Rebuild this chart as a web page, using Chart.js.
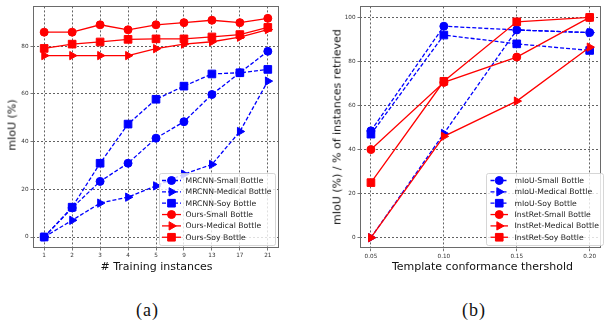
<!DOCTYPE html>
<html>
<head>
<meta charset="utf-8">
<script src="https://cdn.jsdelivr.net/npm/chart.js@4.4.0/dist/chart.umd.min.js"></script>
<style>
  body { margin: 0; width: 607px; height: 322px; background: #fff; position: relative; overflow: hidden; font-family: "DejaVu Sans", sans-serif; }
  canvas { position: absolute; top: 0; }
  .lbl { position: absolute; font-size: 11px; color: #111; white-space: nowrap; transform: translate(-50%, -50%); line-height: 1; }
  .rot { transform: translate(-50%, -50%) rotate(-90deg); }
  .cap { position: absolute; font-family: "Liberation Serif", serif; font-size: 18px; color: #111; letter-spacing: 1px; transform: translate(-50%, -50%); line-height: 1; }
</style>
</head>
<body>
<canvas id="chartA" width="300" height="260" style="left:0"></canvas>
<canvas id="chartB" width="307" height="260" style="left:300px"></canvas>
<div class="lbl rot" style="left:12px; top:125px">mIoU (%)</div>
<div class="lbl" style="left:156.5px; top:265.5px"># Training instances</div>
<div class="lbl rot" style="left:337px; top:126.5px">mIoU (%) / % of instances retrieved</div>
<div class="lbl" style="left:482.5px; top:265.5px">Template conformance thershold</div>
<div class="cap" style="left:147.5px; top:310px">(a)</div>
<div class="cap" style="left:474px; top:310px">(b)</div>
<script>
// (a) mIoU vs number of training instances
const trainCounts = ["1", "2", "3", "4", "5", "9", "13", "17", "21"];
const mrcnnSmall   = [0, 12.2, 23.3, 30.9, 41.4, 48.3, 59.7, 68.8, 77.8];
const mrcnnMedical = [0, 7.0, 14.2, 16.7, 21.4, 26.3, 30.4, 44.2, 65.3];
const mrcnnSoy     = [0, 12.5, 30.9, 47.3, 57.7, 63.2, 68.3, 68.8, 70.2];
const oursSmall    = [85.8, 85.8, 88.9, 86.8, 88.9, 89.8, 90.8, 89.8, 91.6];
const oursMedical  = [76, 76, 76, 76, 78.9, 80.8, 81.8, 83.7, 86.9];
const oursSoy      = [79, 80.8, 81.7, 82.8, 83, 83, 83.8, 84.8, 87.8];

// (b) mIoU / retrieval vs template conformance threshold
const thresholds = [0.05, 0.10, 0.15, 0.20];
const miouSmall   = [48.5, 96, 94.3, 93.1];
const miouMedical = [0, 47.3, 94.3, 93.1];
const miouSoy     = [47, 92, 88, 85];
const retSmall    = [40, 70.5, 82, 100];
const retMedical  = [0, 46, 62, 86.5];
const retSoy      = [25, 71, 98, 100];

const yTicksA = [0, 20, 40, 60, 80];
const yTicksB = [0, 20, 40, 60, 80, 100];

const BLUE = "#0000ff";
const RED = "#ff0000";

const markers = {
  circle:   { pointStyle: "circle",   radius: 4,   rotation: 0 },
  triangle: { pointStyle: "triangle", radius: 4.8, rotation: 90 },
  rect:     { pointStyle: "rect",     radius: 5.4, rotation: 0 }
};

function series(label, points, color, marker, dashed, order) {
  const m = markers[marker];
  return {
    label, data: points, order,
    borderColor: color, backgroundColor: color,
    borderWidth: 1.3, borderDash: dashed ? [4, 2] : [],
    pointStyle: m.pointStyle, pointRadius: m.radius, pointRotation: m.rotation,
    pointBorderWidth: 1, pointBackgroundColor: color, pointBorderColor: color,
    tension: 0, fill: false
  };
}

const byIndex = vals => vals.map((v, i) => ({ x: i, y: v }));
const byThreshold = vals => vals.map((v, i) => ({ x: thresholds[i], y: v }));

// matplotlib-style box frame plus an in-plot legend
const framePlugin = {
  id: "frameLegend",
  afterDatasetsDraw(chart, args, opts) {
    const { ctx, chartArea: a } = chart;
    ctx.save();
    ctx.strokeStyle = "#6a6a6a";
    ctx.lineWidth = 1;
    ctx.setLineDash([]);
    ctx.strokeRect(Math.round(a.left) + 0.5, Math.round(a.top) + 0.5,
      Math.round(a.right - a.left) - 1, Math.round(a.bottom - a.top) - 1);

    // legend box
    const b = opts.box;
    ctx.fillStyle = "rgba(255,255,255,0.8)";
    ctx.strokeStyle = "#cccccc";
    ctx.lineWidth = 0.8;
    ctx.beginPath();
    ctx.roundRect(b.x + 0.5, b.y + 0.5, b.w, b.h, 2);
    ctx.fill();
    ctx.stroke();

    chart.data.datasets.forEach((ds, i) => {
      const y = b.y + opts.rowTop + i * opts.rowGap;
      ctx.strokeStyle = ds.borderColor;
      ctx.lineWidth = ds.borderWidth;
      ctx.setLineDash(ds.borderDash);
      ctx.beginPath();
      ctx.moveTo(opts.hx0, y);
      ctx.lineTo(opts.hx1, y);
      ctx.stroke();
      ctx.setLineDash([]);
      ctx.fillStyle = ds.pointBackgroundColor;
      ctx.strokeStyle = ds.pointBorderColor;
      ctx.lineWidth = 1;
      Chart.helpers.drawPoint(ctx, {
        pointStyle: ds.pointStyle, rotation: ds.pointRotation,
        radius: ds.pointRadius, borderWidth: 1
      }, (opts.hx0 + opts.hx1) / 2, y);
      ctx.fillStyle = "#222";
      ctx.font = "7.7px 'DejaVu Sans'";
      ctx.textBaseline = "middle";
      ctx.textAlign = "left";
      ctx.fillText(ds.label, opts.tx, y + 0.5);
    });
    ctx.restore();
  }
};

const tickFont = { family: "DejaVu Sans", size: 5.7 };
const gridOpts = { color: "#3a3a3a", lineWidth: 0.8, tickLength: 2.5, tickColor: "#555", tickWidth: 0.8, tickBorderDash: [] };
const borderOpts = { display: false, dash: [2, 2] };

function makeScales(x, y, yWidth, xHeight) {
  return {
    x: {
      type: "linear", min: x.min, max: x.max,
      grid: gridOpts, border: borderOpts,
      afterBuildTicks: s => { s.ticks = x.ticks.map(v => ({ value: v })); },
      afterFit: s => { s.height = xHeight; },
      ticks: { font: tickFont, color: "#333", padding: 1.5, autoSkip: false, maxRotation: 0, callback: x.label }
    },
    y: {
      type: "linear", min: y.min, max: y.max,
      grid: gridOpts, border: borderOpts,
      afterBuildTicks: s => { s.ticks = y.ticks.map(v => ({ value: v })); },
      afterFit: s => { s.width = yWidth; },
      ticks: { font: tickFont, color: "#333", padding: 2, callback: v => String(v) }
    }
  };
}

const commonOpts = {
  responsive: false, animation: false, devicePixelRatio: 1,
  plugins: { legend: { display: false }, tooltip: { enabled: false } }
};

new Chart(document.getElementById("chartA"), {
  type: "line",
  data: {
    datasets: [
      series("MRCNN-Small Bottle", byIndex(mrcnnSmall), BLUE, "circle", true, 6),
      series("MRCNN-Medical Bottle", byIndex(mrcnnMedical), BLUE, "triangle", true, 5),
      series("MRCNN-Soy Bottle", byIndex(mrcnnSoy), BLUE, "rect", true, 4),
      series("Ours-Small Bottle", byIndex(oursSmall), RED, "circle", false, 3),
      series("Ours-Medical Bottle", byIndex(oursMedical), RED, "triangle", false, 2),
      series("Ours-Soy Bottle", byIndex(oursSoy), RED, "rect", false, 1)
    ]
  },
  options: {
    ...commonOpts,
    layout: { padding: { left: 0, top: 3, right: 21, bottom: 0 } },
    scales: makeScales(
      { min: -0.4, max: trainCounts.length - 0.6, ticks: trainCounts.map((c, i) => i),
        label: v => trainCounts[Math.round(v)] },
      { min: -4.6, max: 96.6, ticks: yTicksA }, 33, 12),
    plugins: {
      ...commonOpts.plugins,
      frameLegend: { box: { x: 159, y: 173, w: 116, h: 72 }, rowTop: 7.5, rowGap: 11.35, hx0: 162, hx1: 181, tx: 185.5 }
    }
  },
  plugins: [framePlugin]
});

new Chart(document.getElementById("chartB"), {
  type: "line",
  data: {
    datasets: [
      series("mIoU-Small Bottle", byThreshold(miouSmall), BLUE, "circle", true, 5),
      series("mIoU-Medical Bottle", byThreshold(miouMedical), BLUE, "triangle", true, 6),
      series("mIoU-Soy Bottle", byThreshold(miouSoy), BLUE, "rect", true, 4),
      series("InstRet-Small Bottle", byThreshold(retSmall), RED, "circle", false, 3),
      series("InstRet-Medical Bottle", byThreshold(retMedical), RED, "triangle", false, 2),
      series("InstRet-Soy Bottle", byThreshold(retSoy), RED, "rect", false, 1)
    ]
  },
  options: {
    ...commonOpts,
    layout: { padding: { left: 0, top: 3.3, right: 1, bottom: 0 } },
    scales: makeScales(
      { min: 0.0425, max: 0.2075, ticks: thresholds, label: v => v.toFixed(2) },
      { min: -5, max: 105, ticks: yTicksB }, 60, 11.3),
    plugins: {
      ...commonOpts.plugins,
      frameLegend: { box: { x: 186, y: 173, w: 117, h: 72 }, rowTop: 7.5, rowGap: 11.35, hx0: 190.5, hx1: 208, tx: 214.5 }
    }
  },
  plugins: [framePlugin]
});
</script>
</body>
</html>
